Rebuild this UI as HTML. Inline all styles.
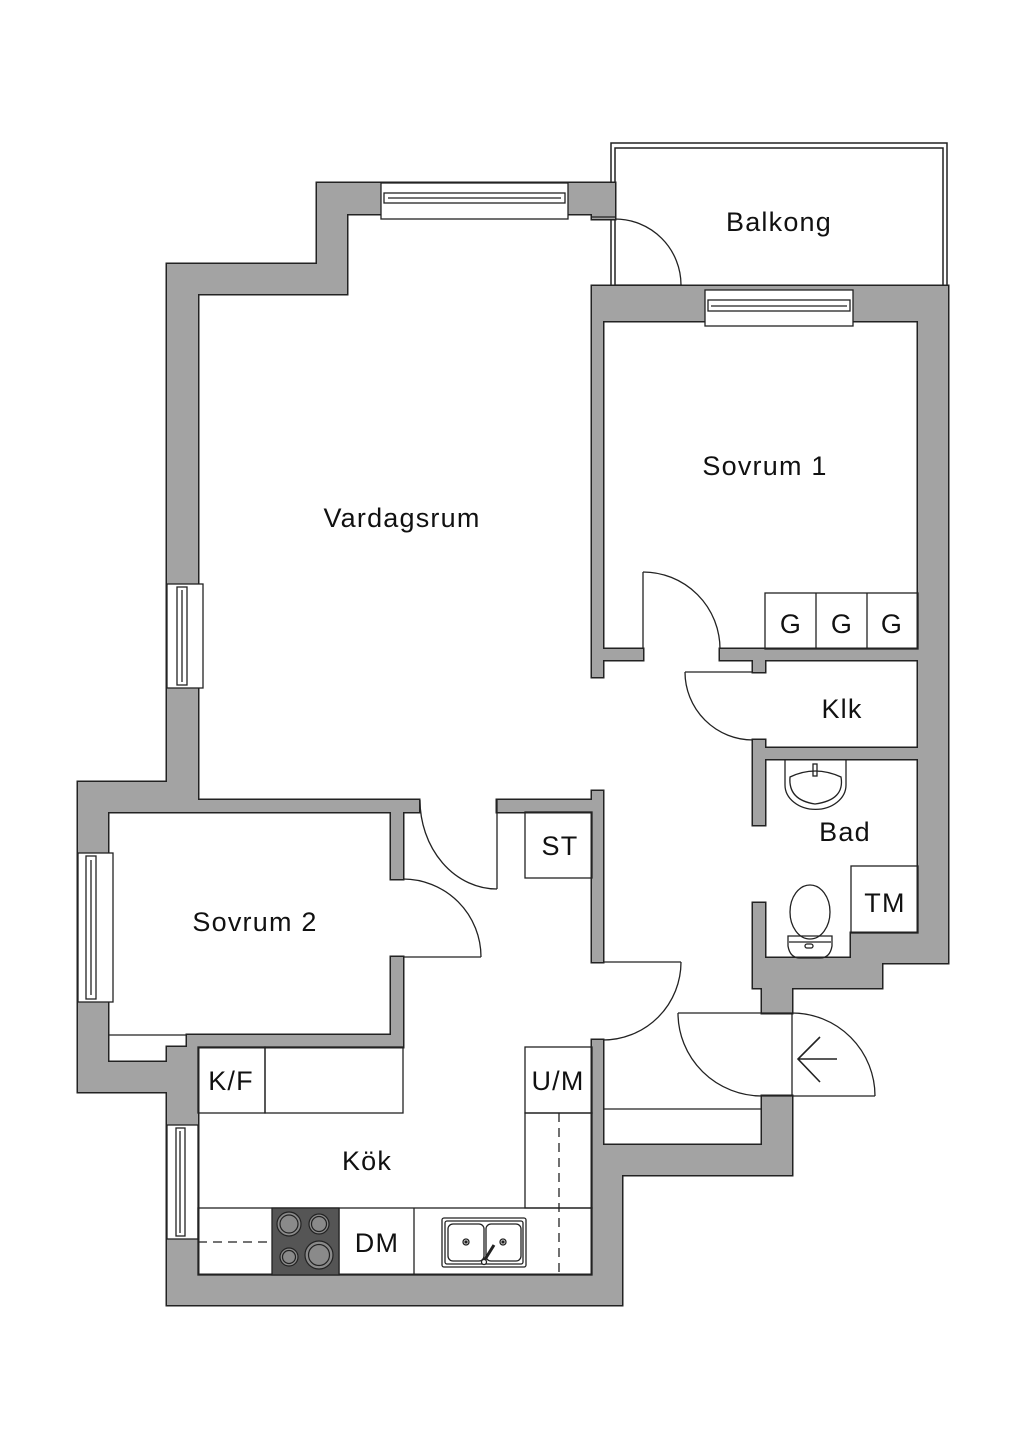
<!DOCTYPE html>
<html><head><meta charset="utf-8"><style>
html,body{margin:0;padding:0;background:#fff;}
svg{display:block;}
text{font-family:"Liberation Sans",sans-serif;fill:#111;}
</style></head><body>
<svg width="1024" height="1448" viewBox="0 0 1024 1448" xmlns="http://www.w3.org/2000/svg">
<defs>
<g id="walls">
<rect x="167" y="264" width="31" height="518"/>
<rect x="167" y="264" width="180" height="30"/>
<rect x="317" y="183" width="30" height="111"/>
<rect x="317" y="183" width="298" height="31"/>
<rect x="592" y="183" width="23" height="36"/>
<rect x="592" y="286" width="356" height="35"/>
<rect x="592" y="286" width="11" height="391"/>
<rect x="918" y="290" width="30" height="673"/>
<rect x="603" y="649" width="40" height="11"/>
<rect x="720" y="649" width="198" height="11"/>
<rect x="753" y="649" width="12" height="23"/>
<rect x="753" y="748" width="165" height="11"/>
<rect x="753" y="740" width="12" height="85"/>
<rect x="753" y="903" width="12" height="85"/>
<rect x="851" y="933" width="97" height="30"/>
<rect x="753" y="958" width="129" height="30"/>
<rect x="762" y="958" width="30" height="55"/>
<rect x="762" y="1096" width="30" height="79"/>
<rect x="603" y="1145" width="189" height="30"/>
<rect x="592" y="1040" width="11" height="105"/>
<rect x="592" y="1145" width="30" height="160"/>
<rect x="167" y="1275" width="455" height="30"/>
<rect x="167" y="1047" width="31" height="258"/>
<rect x="78" y="782" width="30" height="310"/>
<rect x="78" y="782" width="120" height="30"/>
<rect x="78" y="1062" width="120" height="30"/>
<rect x="187" y="1035" width="216" height="12"/>
<rect x="198" y="800" width="221" height="12"/>
<rect x="391" y="800" width="12" height="79"/>
<rect x="391" y="957" width="12" height="90"/>
<rect x="497" y="800" width="106" height="12"/>
<rect x="592" y="791" width="11" height="171"/>
</g>
</defs>
<rect x="611" y="143" width="336" height="150" fill="#fff" stroke="#222" stroke-width="1.5"/>
<rect x="615" y="148" width="328" height="141" fill="#fff" stroke="#222" stroke-width="1.5"/>
<use href="#walls" fill="#a3a3a3" stroke="#222" stroke-width="3"/>
<use href="#walls" fill="#a3a3a3" stroke="none"/>

<g fill="#fff" stroke="#222" stroke-width="1.3">
<rect x="381" y="183" width="187" height="36"/>
<rect x="384" y="193" width="181" height="10"/>
<line x1="388" y1="198" x2="561" y2="198"/>
<rect x="705" y="290" width="148" height="36"/>
<rect x="708" y="300" width="142" height="11"/>
<line x1="711" y1="306" x2="847" y2="306"/>
<rect x="167" y="584" width="36" height="104"/>
<rect x="177" y="587" width="10" height="98"/>
<line x1="182" y1="590" x2="182" y2="682"/>
<rect x="78" y="853" width="35" height="149"/>
<rect x="86" y="856" width="10" height="143"/>
<line x1="91" y1="860" x2="91" y2="995"/>
<rect x="167" y="1125" width="31" height="114"/>
<rect x="176" y="1128" width="9" height="108"/>
<line x1="180" y1="1131" x2="180" y2="1233"/>
</g>

<g fill="none" stroke="#222" stroke-width="1.3">
<path d="M592 217 H615"/>
<path d="M615 219 A66 66 0 0 1 681 285"/>
<line x1="615" y1="285" x2="682" y2="285"/>
<line x1="643" y1="572" x2="643" y2="649"/>
<path d="M643 572 A77 77 0 0 1 720 649"/>
<line x1="685" y1="672" x2="753" y2="672"/>
<path d="M685 672 A68 68 0 0 0 753 740"/>
<line x1="497" y1="800" x2="497" y2="889"/>
<path d="M420 800 A77 89 0 0 0 497 889"/>
<line x1="403" y1="957" x2="481" y2="957"/>
<path d="M403 879 A78 78 0 0 1 481 957"/>
<line x1="603" y1="962" x2="681" y2="962"/>
<path d="M681 962 A78 78 0 0 1 603 1040"/>
<line x1="678" y1="1013" x2="792" y2="1013"/>
<path d="M678 1013 A84 83 0 0 0 762 1096"/>
<line x1="762" y1="1096" x2="875" y2="1096"/>
<line x1="792" y1="1013" x2="792" y2="1096"/>
<path d="M792 1013 A83 83 0 0 1 875 1096"/>
<path d="M837 1059 H798 M820 1037 L798 1059 L820 1082" stroke-width="1.6"/>
<line x1="603" y1="1109" x2="762" y2="1109"/>
<line x1="108" y1="1035" x2="187" y2="1035"/>
<rect x="765" y="593" width="153" height="56"/>
<line x1="816" y1="593" x2="816" y2="649"/>
<line x1="867" y1="593" x2="867" y2="649"/>
<rect x="851" y="866" width="67" height="67"/>
<rect x="525" y="812" width="67" height="66"/>
<rect x="198" y="1047" width="67" height="66"/>
<rect x="265" y="1047" width="138" height="66"/>
<rect x="525" y="1047" width="67" height="66"/>
<rect x="525" y="1113" width="67" height="95"/>
<rect x="198" y="1208" width="394" height="67"/>
<line x1="414" y1="1208" x2="414" y2="1275"/>
<line x1="339" y1="1208" x2="339" y2="1275"/>
<line x1="559" y1="1113" x2="559" y2="1275" stroke-dasharray="9,6"/>
<line x1="198" y1="1242" x2="272" y2="1242" stroke-dasharray="9,6"/>
<rect x="442" y="1218" width="84" height="49" rx="2"/>
<rect x="445" y="1221" width="78" height="43" rx="2"/>
<rect x="448" y="1224" width="36" height="37" rx="5"/>
<rect x="486" y="1224" width="35" height="37" rx="5"/>
<circle cx="466" cy="1242" r="3"/><circle cx="466" cy="1242" r="1" fill="#222"/>
<circle cx="503" cy="1242" r="3"/><circle cx="503" cy="1242" r="1" fill="#222"/>
<line x1="484" y1="1261" x2="494" y2="1245" stroke-width="3"/>
<circle cx="484" cy="1262" r="2.5" fill="#fff"/>
<path d="M785 759 V785 A30 24 0 0 0 846 785 V759"/>
<path d="M790 777 Q815 765 841 777 Q845 800 815 804 Q788 800 790 777 Z"/>
<rect x="813" y="764" width="4" height="12"/>
<ellipse cx="810" cy="912" rx="20" ry="27"/>
<path d="M788 936 H832 V946 Q830 958 820 958 H800 Q790 958 788 946 Z"/>
<line x1="789" y1="942" x2="831" y2="942"/>
<rect x="805" y="944" width="8" height="4" rx="2"/>
</g>
<rect x="272" y="1208" width="67" height="67" fill="#555" stroke="#222" stroke-width="1.3"/>
<g fill="#8a8a8a" stroke="#222" stroke-width="1.2">
<circle cx="289" cy="1224" r="12"/><circle cx="289" cy="1224" r="9"/>
<circle cx="319" cy="1224" r="10"/><circle cx="319" cy="1224" r="7.5"/>
<circle cx="289" cy="1257" r="9"/><circle cx="289" cy="1257" r="6.5"/>
<circle cx="319" cy="1255" r="14"/><circle cx="319" cy="1255" r="10.5"/>
</g>

<g font-size="27" letter-spacing="1.2" text-anchor="middle">
<text x="402" y="527">Vardagsrum</text>
<text x="779" y="231">Balkong</text>
<text x="765" y="475">Sovrum 1</text>
<text x="791" y="633">G</text>
<text x="842" y="633">G</text>
<text x="892" y="633">G</text>
<text x="842" y="718">Klk</text>
<text x="845" y="841">Bad</text>
<text x="885" y="912">TM</text>
<text x="560" y="855">ST</text>
<text x="255" y="931">Sovrum 2</text>
<text x="231" y="1090">K/F</text>
<text x="558" y="1090">U/M</text>
<text x="367" y="1170">Kök</text>
<text x="377" y="1252">DM</text>
</g>
</svg>
</body></html>
